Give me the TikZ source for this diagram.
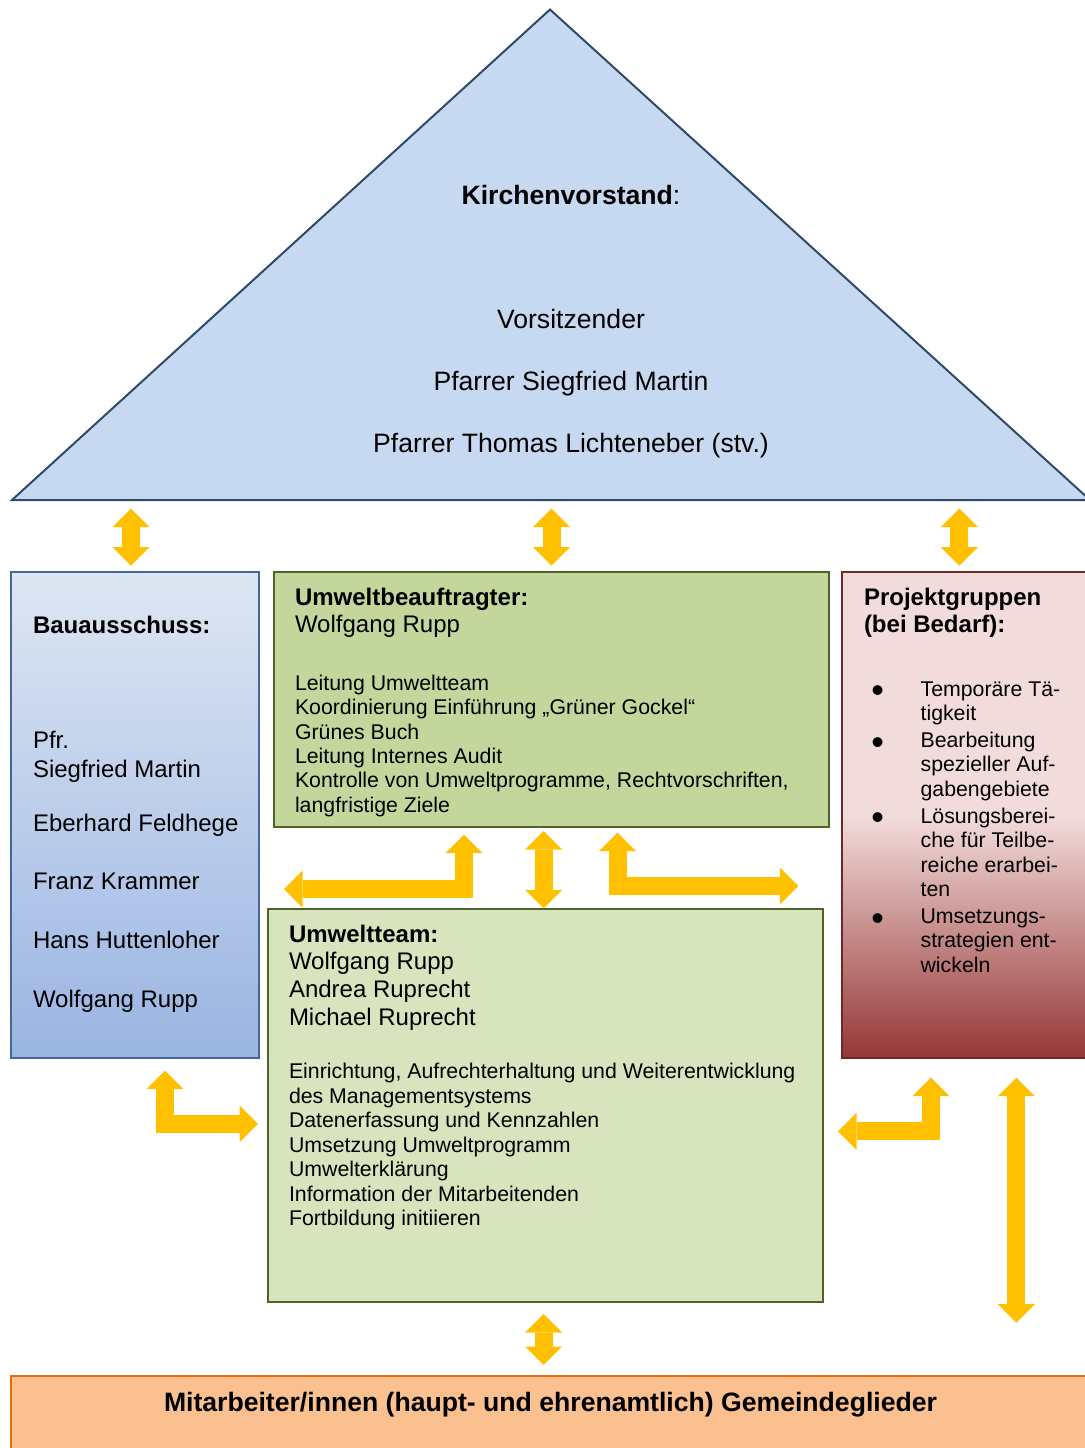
\documentclass[tikz,border=0pt]{standalone}
\usepackage{fontspec}
\setmainfont{Liberation Sans}
\usetikzlibrary{positioning, arrows.meta}
\tikzset{
	blocktip/.tip={Triangle[width=18.5pt, length=9.25pt, line width=0pt]},
	dblarrow/.style={draw=xgold, line width=9pt, line join=miter, {blocktip}-{blocktip}},
	box/.style={rectangle, inner sep=0pt, outer sep=0pt, anchor=north west, line width=1pt},
	txt/.style={inner sep=0pt, outer sep=0pt, align=left},
	headtxt/.style={txt, font=\fontsize{12pt}{13.85pt}\selectfont},
	listtxt/.style={txt, font=\fontsize{10.65pt}{12.2pt}\selectfont},
}
\newcommand{\projbullet}{\llap{\raisebox{-3.3pt}{\fontsize{18pt}{18pt}\selectfont •}\hspace{18.3pt}}}
\usepackage{xcolor}
\definecolor{xgold}{HTML}{FFC000}
\definecolor{trifill}{HTML}{C6D9F1}
\definecolor{triline}{HTML}{2E4A6B}
\definecolor{baulight}{HTML}{DEE6F3}
\definecolor{baudark}{HTML}{9AB5E2}
\definecolor{bauline}{HTML}{41679E}
\definecolor{ubfill}{HTML}{C3D69B}
\definecolor{teamfill}{HTML}{D7E4BD}
\definecolor{greenline}{HTML}{4F6228}
\definecolor{projlight}{HTML}{F2DCDB}
\definecolor{projdark}{HTML}{953735}
\definecolor{projline}{HTML}{6E2826}
\definecolor{stafffill}{HTML}{FAC090}
\definecolor{staffline}{HTML}{E46C0A}

\begin{document}
\begin{tikzpicture}[x=0.5pt, y=-0.5pt]
	\useasboundingbox (0,0) rectangle (1085,1448);

	% Kirchenvorstand
	\filldraw[fill=trifill, draw=triline, line width=1pt] (12,500) -- (550,9.5) -- (1090,500) -- cycle;
	\coordinate (tribase) at (550,500);
	\node[txt, align=center, anchor=north, font=\fontsize{13.3pt}{31pt}\selectfont] (kv) at (571,185)
		{\textbf{Kirchenvorstand}:\\[31pt] Vorsitzender\\ Pfarrer Siegfried Martin\\ Pfarrer Thomas Lichteneber (stv.)};

	% Boxes
	\node[box, top color=baulight, bottom color=baudark, draw=bauline, minimum width=124pt, minimum height=243.3pt] (bau) at (11,571.7) {};
	\node[box, fill=ubfill, draw=greenline, line width=1.2pt, minimum width=277.5pt, minimum height=127.5pt] (ubeauf) at (274,571.7) {};
	\node[box, top color=projlight, bottom color=projdark, middle color=projlight, draw=projline, minimum width=124pt, minimum height=243.3pt] (proj) at (842.4,571.7) {};
	\node[box, fill=teamfill, draw=greenline, minimum width=277.5pt, minimum height=196.35pt] (team) at (268,909.3) {};
	\node[box, fill=stafffill, draw=staffline, minimum width=540pt, minimum height=45pt] (staff) at (11,1376) {};

	% Texts
	\node[headtxt, font=\fontsize{12pt}{14.5pt}\selectfont, below right=22pt and 11pt of bau.north west] (bautext)
		{\textbf{Bauausschuss:}\\[43pt] Pfr.\\ Siegfried Martin\\[12.5pt] Eberhard Feldhege\\[14.5pt] Franz Krammer\\[15pt] Hans Huttenloher\\[15pt] Wolfgang Rupp};

	\node[headtxt, below right=8pt and 10.5pt of ubeauf.north west] (ubhead)
		{\textbf{Umweltbeauftragter:}\\ Wolfgang Rupp};
	\node[listtxt, below right=51.55pt and 10.5pt of ubeauf.north west] (ublist)
		{Leitung Umweltteam\\ Koordinierung Einführung „Grüner Gockel“\\ Grünes Buch\\ Leitung Internes Audit\\ Kontrolle von Umweltprogramme, Rechtvorschriften,\\ langfristige Ziele};

	\node[headtxt, below right=8pt and 10.8pt of proj.north west] (projhead)
		{\textbf{Projektgruppen}\\ \textbf{(bei Bedarf):}};
	\node[listtxt, below right=54.9pt and 39.1pt of proj.north west] (projlist)
		{\projbullet Temporäre Tä-\\ tigkeit\\[1.3pt]
		 \projbullet Bearbeitung\\ spezieller Auf-\\ gabengebiete\\[1.3pt]
		 \projbullet Lösungsberei-\\ che für Teilbe-\\ reiche erarbei-\\ ten\\[1.3pt]
		 \projbullet Umsetzungs-\\ strategien ent-\\ wickeln};

	\node[headtxt, below right=7.75pt and 10.5pt of team.north west] (teamhead)
		{\textbf{Umweltteam:}\\ Wolfgang Rupp\\ Andrea Ruprecht\\ Michael Ruprecht};
	\node[listtxt, font=\fontsize{10.65pt}{12.28pt}\selectfont, below right=76.9pt and 10.5pt of team.north west] (teamlist)
		{Einrichtung, Aufrechterhaltung und Weiterentwicklung\\ des Managementsystems\\ Datenerfassung und Kennzahlen\\ Umsetzung Umweltprogramm\\ Umwelterklärung\\ Information der Mitarbeitenden\\ Fortbildung initiieren};

	\node[txt, anchor=base, font=\fontsize{13.3pt}{15pt}\selectfont\bfseries] (stafftext) at (550.5,1411.5)
		{Mitarbeiter/innen (haupt- und ehrenamtlich) Gemeindeglieder};

	% Arrows
	\draw[dblarrow] ([xshift=-2pt, yshift=3pt]bau.north) -- ([xshift=-2pt, yshift=-4.25pt]bau.north |- tribase);
	\draw[dblarrow] ([yshift=3pt]ubeauf.north) -- ([yshift=-4.25pt]ubeauf.north |- tribase);
	\draw[dblarrow] ([xshift=-3.5pt, yshift=3pt]proj.north) -- ([xshift=-3.5pt, yshift=-4.25pt]proj.north |- tribase);

	\coordinate (bendL) at (464,889);
	\draw[dblarrow] ([xshift=12.5pt]bau.east |- bendL) -- (bendL) -- ([yshift=-4pt]ubeauf.south -| bendL);
	\draw[dblarrow] ([xshift=-0.9pt, yshift=0.5pt]team.north) -- ([xshift=-0.9pt, yshift=-2.15pt]team.north |- ubeauf.south);
	\coordinate (bendR) at (617.5,886);
	\draw[dblarrow] ([yshift=-3pt]ubeauf.south -| bendR) -- (bendR) -- ([xshift=-22pt]proj.west |- bendR);

	\coordinate (bendLL) at (165,1123.8);
	\draw[dblarrow] ([yshift=-6.2pt]bau.south -| bendLL) -- (bendLL) -- ([xshift=-5pt]team.west |- bendLL);
	\coordinate (bendLR) at (931,1131.3);
	\draw[dblarrow] ([xshift=7.5pt]team.east |- bendLR) -- (bendLR) -- ([yshift=-9.7pt]proj.south -| bendLR);
	\draw[dblarrow] ([xshift=25pt, yshift=-9.7pt]proj.south) -- ([xshift=25pt, yshift=26.65pt]proj.south |- staff.north);
	\draw[dblarrow] ([xshift=-0.9pt, yshift=-6pt]team.south) -- ([xshift=-0.9pt, yshift=5.5pt]team.south |- staff.north);
\end{tikzpicture}
\end{document}
